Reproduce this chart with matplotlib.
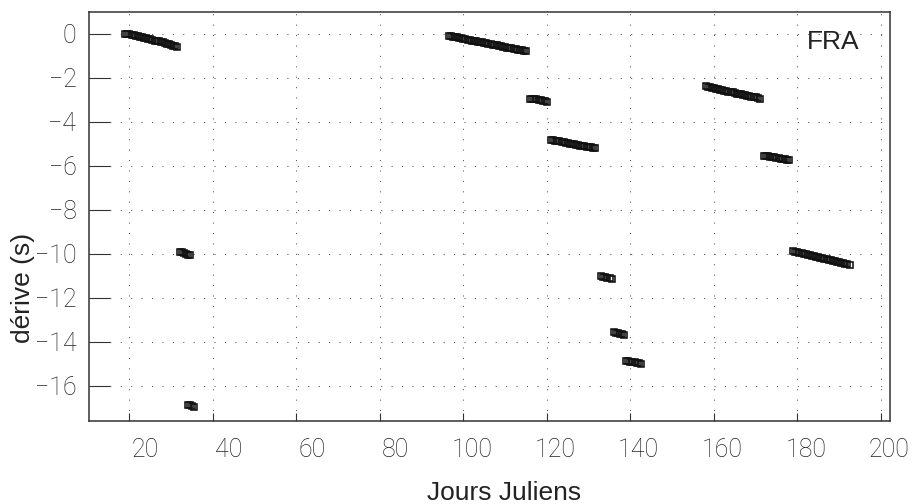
import numpy as np
import matplotlib
matplotlib.use("Agg")
import matplotlib.pyplot as plt
from matplotlib.transforms import ScaledTranslation, blended_transform_factory

# drift segments: first day of each segment + drift values (s), one every half day
seg_start = [19.0, 32.0, 34.0, 96.5, 116.0, 121.0, 133.0, 136.0, 139.0,
             158.0, 172.0, 179.0]
seg_drift = [
    [0.00, -0.02, -0.03, -0.05, -0.08, -0.10, -0.12, -0.14, -0.16, -0.19,
     -0.21, -0.23, -0.26, -0.28, -0.31, -0.33, -0.35, -0.38, -0.40, -0.43,
     -0.46, -0.48, -0.51, -0.54, -0.57, -0.61],
    [-9.92, -9.95, -9.98, -10.02, -10.05, -10.08],
    [-16.88, -16.90, -16.93, -16.96],
    [-0.10, -0.12, -0.14, -0.15, -0.17, -0.19, -0.21, -0.23, -0.25, -0.27,
     -0.29, -0.31, -0.33, -0.34, -0.36, -0.38, -0.40, -0.42, -0.44, -0.46,
     -0.48, -0.50, -0.51, -0.53, -0.55, -0.57, -0.59, -0.61, -0.63, -0.65,
     -0.67, -0.68, -0.70, -0.72, -0.74, -0.76, -0.78, -0.80],
    [-2.95, -2.96, -2.97, -2.99, -3.01, -3.03, -3.06, -3.08, -3.10],
    [-4.83, -4.85, -4.87, -4.89, -4.90, -4.92, -4.94, -4.96, -4.98, -5.00,
     -5.01, -5.03, -5.05, -5.07, -5.09, -5.10, -5.12, -5.14, -5.16, -5.17,
     -5.19, -5.21],
    [-11.02, -11.05, -11.08, -11.10, -11.12, -11.14],
    [-13.57, -13.60, -13.63, -13.65, -13.67, -13.69],
    [-14.87, -14.89, -14.91, -14.93, -14.95, -14.97, -14.99, -15.00],
    [-2.40, -2.42, -2.44, -2.46, -2.48, -2.51, -2.53, -2.55, -2.57, -2.59,
     -2.61, -2.63, -2.65, -2.67, -2.69, -2.72, -2.74, -2.76, -2.78, -2.80,
     -2.82, -2.84, -2.86, -2.88, -2.90, -2.93, -2.95],
    [-5.55, -5.57, -5.58, -5.60, -5.62, -5.63, -5.65, -5.67, -5.68, -5.70,
     -5.72, -5.73, -5.75],
    [-9.90, -9.92, -9.94, -9.97, -9.99, -10.01, -10.03, -10.06, -10.08, -10.10,
     -10.12, -10.14, -10.17, -10.19, -10.21, -10.23, -10.26, -10.28, -10.30,
     -10.32, -10.34, -10.37, -10.39, -10.41, -10.43, -10.46, -10.48, -10.50],
]
step = 0.5

x_ticks = [20, 40, 60, 80, 100, 120, 140, 160, 180, 200]
y_ticks = [0, -2, -4, -6, -8, -10, -12, -14, -16]

plt.rcParams['font.family'] = ['Liberation Sans', 'DejaVu Sans']

fig = plt.figure(figsize=(9.14, 5.04), dpi=100)
ax = fig.add_axes([89 / 914, 1 - 420.7 / 504, 801 / 914, 409 / 504])

for x0, ys in zip(seg_start, seg_drift):
    xs = x0 + step * np.arange(len(ys))
    ax.plot(xs, ys, ls='none', marker='s', ms=4.6, mfc='none', mec='#111111',
            mew=1.15)

ax.set_xlim(10.3, 202.2)
ax.set_ylim(-17.6, 1.0)

ax.set_xticks(x_ticks)
ax.set_yticks(y_ticks)
ax.grid(True, color='#555555', lw=0.75, ls=(0, (1, 9)))

for s in ax.spines.values():
    s.set_color('#333333')
    s.set_linewidth(1.1)

ax.tick_params(axis='x', direction='in', length=6, width=0.8, color='#333333',
               labelbottom=False)
ax.tick_params(axis='y', direction='in', length=15, width=0.8, color='#333333',
               pad=9, labelsize=18, labelcolor='#222222')
for lab in ax.get_yticklabels():
    lab.set_fontfamily(['Roboto', 'DejaVu Sans'])
    lab.set_fontweight('light')

# x tick labels sit right of their ticks, like the original
trans = blended_transform_factory(ax.transData, ax.transAxes) + \
    ScaledTranslation(29 / 100, -17 / 100, fig.dpi_scale_trans)
for v in x_ticks:
    ax.text(v, 0, str(v), transform=trans, ha='right', va='top', fontsize=18,
            family=['Roboto', 'DejaVu Sans'], fontweight='light',
            color='#222222', clip_on=False)

ax.text(0.896, 0.926, 'FRA', transform=ax.transAxes, ha='left', va='center',
        fontsize=19, color='#222222')

fig.text(504 / 914, 1 - 500 / 504, 'Jours Juliens', ha='center',
         va='baseline', fontsize=19, color='#222222')
fig.text(23 / 914, 216 / 504, 'dérive (s)', rotation=90, ha='center',
         va='center', fontsize=19, color='#222222')

fig.savefig('out.png', dpi=100)
